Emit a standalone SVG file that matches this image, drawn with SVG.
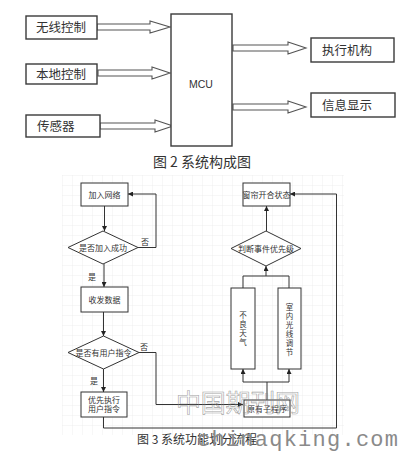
<svg xmlns="http://www.w3.org/2000/svg" width="404" height="458" viewBox="0 0 404 458">
<defs>
<pattern id="grid" width="10" height="10" patternUnits="userSpaceOnUse" x="62" y="175">
<path d="M10 0H0V10" fill="none" stroke="#ececec" stroke-width="0.8"/>
</pattern>
<marker id="ah" viewBox="0 0 10 10" refX="10" refY="5" markerWidth="5" markerHeight="5" orient="auto">
<path d="M0 0L10 5L0 10z" fill="#222"/>
</marker>
<style>
.bx{fill:#fff;stroke:#3a3a3a;stroke-width:1.4}
.ha{fill:#fff;stroke:#555;stroke-width:1.1}
.t1{font-family:"Noto Sans CJK SC","Noto Sans",sans-serif;font-size:12.5px;fill:#333}
.fb{fill:#fff;stroke:#333;stroke-width:1}
.ln{fill:none;stroke:#333;stroke-width:1}
.t2{font-family:"Noto Sans CJK SC","Noto Sans",sans-serif;font-size:8px;fill:#333;text-anchor:middle}
.tv{font-family:"Noto Sans CJK SC","Noto Sans",sans-serif;font-size:7.5px;fill:#333;text-anchor:middle;writing-mode:tb;letter-spacing:1.5px}
</style>
</defs>
<rect width="404" height="458" fill="#fff"/>
<rect x="62" y="175" width="282" height="260" fill="url(#grid)"/>

<g id="connectors">
<polygon class="ha" points="97,24 150,24 150,21 170,27 150,33 150,30 97,30"/>
<polygon class="ha" points="98,70 152,70 152,67 170,73 152,79 152,76 98,76"/>
<polygon class="ha" points="100,123 155,123 155,120 173,126 155,132 155,129 100,129"/>
<polygon class="ha" points="233,45 288,45 288,42 306,48 288,54 288,51 233,51"/>
<polygon class="ha" points="233,104 288,104 288,101 306,107 288,113 288,110 233,110"/>

<path class="ln" d="M104.5 206V231" marker-end="url(#ah)"/>
<path class="ln" d="M138 247.5H156V194H128" marker-end="url(#ah)"/>
<path class="ln" d="M104 264V287" marker-end="url(#ah)"/>
<path class="ln" d="M103.5 312V336" marker-end="url(#ah)"/>
<path class="ln" d="M139 352.5H156V404.5H243" marker-end="url(#ah)"/>
<path class="ln" d="M103.5 369V392" marker-end="url(#ah)"/>
<path class="ln" d="M103.5 417V428H336.5V194H290" marker-end="url(#ah)"/>
<path class="ln" d="M267 400V382"/>
<path class="ln" d="M243 382H289"/>
<path class="ln" d="M243 382V369" marker-end="url(#ah)"/>
<path class="ln" d="M289 382V369" marker-end="url(#ah)"/>
<path class="ln" d="M243 288V276H289V288"/>
<path class="ln" d="M266 276V266" marker-end="url(#ah)"/>
<path class="ln" d="M266.5 231V206" marker-end="url(#ah)"/>
</g>

<g id="n-wireless"><rect class="bx" x="26" y="16" width="71" height="23"/><text class="t1" x="36" y="32">无线控制</text></g>
<g id="n-local"><rect class="bx" x="26" y="64" width="71" height="20"/><text class="t1" x="36" y="78.5">本地控制</text></g>
<g id="n-sensor"><rect class="bx" x="26" y="115" width="74" height="22"/><text class="t1" x="37" y="130.5">传感器</text></g>
<g id="n-mcu"><rect class="bx" x="171" y="14" width="61" height="132"/><text x="201" y="88" text-anchor="middle" font-family="Liberation Sans,Arial,sans-serif" font-size="10.5" fill="#333">MCU</text></g>
<g id="n-actuator"><rect class="bx" x="311" y="38" width="83" height="24"/><text class="t1" x="322" y="54.5">执行机构</text></g>
<g id="n-display"><rect class="bx" x="311" y="93" width="84" height="24"/><text class="t1" x="322" y="109.5">信息显示</text></g>
<text x="202" y="167" text-anchor="middle" font-family="Noto Sans CJK SC,sans-serif" font-size="14" fill="#333">图 2  系统构成图</text>

<g id="f-join"><rect class="fb" x="81" y="183" width="47" height="23"/><text class="t2" x="104.5" y="197.5">加入网络</text></g>
<g id="f-joinok"><polygon class="fb" points="103,231 138,247.5 103,264 68,247.5"/><text class="t2" x="103" y="250.5">是否加入成功</text></g>
<text class="t2" x="145" y="245">否</text>
<text class="t2" x="92" y="280">是</text>
<g id="f-data"><rect class="fb" x="81" y="287" width="47" height="25"/><text class="t2" x="104.5" y="302.5">收发数据</text></g>
<g id="f-usercmd"><polygon class="fb" points="103.5,336 139,352.5 103.5,369 68,352.5"/><text class="t2" x="103.5" y="355.5">是否有用户指令</text></g>
<text class="t2" x="144" y="350">否</text>
<text class="t2" x="94" y="384">是</text>
<g id="f-exec"><rect class="fb" x="81" y="392" width="46" height="25"/><text class="t2" x="104" y="402.5">优先执行</text><text class="t2" x="104" y="412">用户指令</text></g>
<g id="f-sub"><rect class="fb" x="244" y="400" width="46" height="17"/><text class="t2" x="267" y="411.5">原有子程序</text></g>
<g id="f-weather"><rect class="fb" x="231" y="288" width="24" height="81"/><text class="tv" x="243" y="329">不良天气</text></g>
<g id="f-light"><rect class="fb" x="278" y="288" width="23" height="81"/><text class="tv" x="289.5" y="330">室内光线调节</text></g>
<g id="f-priority"><polygon class="fb" points="266,231 301,248.5 266,266 231,248.5"/><text class="t2" x="266" y="251.5">判断事件优先级</text></g>
<g id="f-curtain"><rect class="fb" x="243" y="183" width="47" height="23"/><text class="t2" x="266.5" y="197.5">窗帘开合状态</text></g>

<text x="137" y="444" font-family="Noto Sans CJK SC,sans-serif" font-size="12" fill="#333">图 3  系统功能划分流程</text>
<text x="176" y="412" font-family="Noto Sans CJK SC,sans-serif" font-size="25" fill="none" stroke="#8a8a8a" stroke-width="0.6" stroke-opacity="0.8" textLength="124">中国期刊网</text>
<text x="197" y="446" font-family="Liberation Mono,monospace" font-size="22" fill="#8a8a8a" textLength="201">chinaqking.com</text>
</svg>
